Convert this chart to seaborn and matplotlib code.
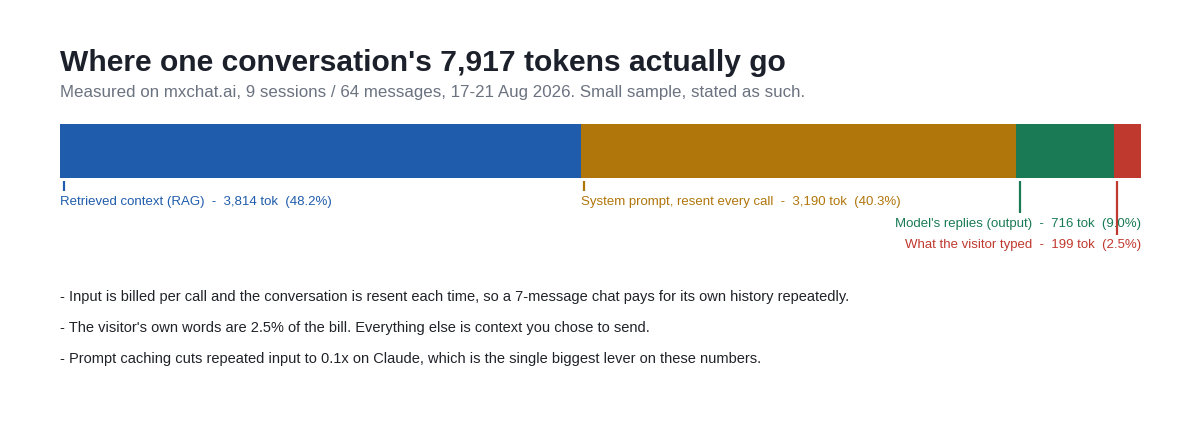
import matplotlib
matplotlib.use("Agg")
import matplotlib.pyplot as plt
import matplotlib.transforms as mtransforms
import pandas as pd
import seaborn as sns

segments = ["Retrieved context (RAG)", "System prompt, resent every call",
            "Model's replies (output)", "What the visitor typed"]
tokens = [3814, 3190, 716, 199]
shares = [48.2, 40.3, 9.0, 2.5]
colors = ["#1f5cab", "#b0760c", "#1a7a56", "#c0392f"]
notes = [
    "- Input is billed per call and the conversation is resent each time, so a 7-message chat pays for its own history repeatedly.",
    "- The visitor's own words are 2.5% of the bill. Everything else is context you chose to send.",
    "- Prompt caching cuts repeated input to 0.1x on Claude, which is the single biggest lever on these numbers.",
]

W, H = 1200, 426


def fy(px):
    return 1 - px / H


sns.set_theme(style="white")
plt.rcParams["font.family"] = ["Liberation Sans", "DejaVu Sans"]

fig = plt.figure(figsize=(W / 100, H / 100), dpi=100)
fig.patch.set_facecolor("white")

x0, x1 = 60, 1141
ax = fig.add_axes([x0 / W, fy(178), (x1 - x0) / W, 54 / H])

total = sum(tokens)
starts = [sum(tokens[:i]) for i in range(len(tokens))]
cum = [s + t for s, t in zip(starts, tokens)]
df = pd.DataFrame({"segment": segments, "end": cum, "row": ["all"] * 4})

# stacked bar: draw cumulative ends from largest to smallest
for i in reversed(range(len(segments))):
    sns.barplot(data=df.iloc[[i]], x="end", y="row", color=colors[i],
                width=1.0, saturation=1, ax=ax, orient="h", linewidth=0)

ax.set_xlim(0, total)
ax.set_ylim(0.5, -0.5)
ax.axis("off")

trans = mtransforms.blended_transform_factory(ax.transData, fig.transFigure)
off = total * 3.5 / (x1 - x0)

tick_end = [191, 191, 213, 235]
label_y = [202, 202, 224, 245]
for i, seg in enumerate(segments):
    xt = starts[i] + off
    ax.plot([xt, xt], [fy(181), fy(tick_end[i])], color=colors[i], lw=1.6,
            transform=trans, clip_on=False, solid_capstyle="butt")
    text = f"{seg}  -  {tokens[i]:,} tok  ({shares[i]:.1f}%)"
    if i < 2:
        ax.text(starts[i], fy(label_y[i]), text, color=colors[i], fontsize=9.5,
                ha="left", va="center", transform=trans)
    else:
        ax.text(total, fy(label_y[i]), text, color=colors[i], fontsize=9.5,
                ha="right", va="center", transform=trans)

fig.text(x0 / W, fy(63), "Where one conversation's 7,917 tokens actually go",
         fontsize=21.6, fontweight="bold", color="#1b202b", ha="left", va="center")
fig.text(x0 / W, fy(93),
         "Measured on mxchat.ai, 9 sessions / 64 messages, 17-21 Aug 2026. Small sample, stated as such.",
         fontsize=12.2, color="#6b7280", ha="left", va="center")

for k, note in enumerate(notes):
    fig.text(x0 / W, fy(297 + 31 * k), note, fontsize=10.5, color="#1f2228",
             ha="left", va="center")

fig.savefig("out.png", dpi=100, facecolor="white")
